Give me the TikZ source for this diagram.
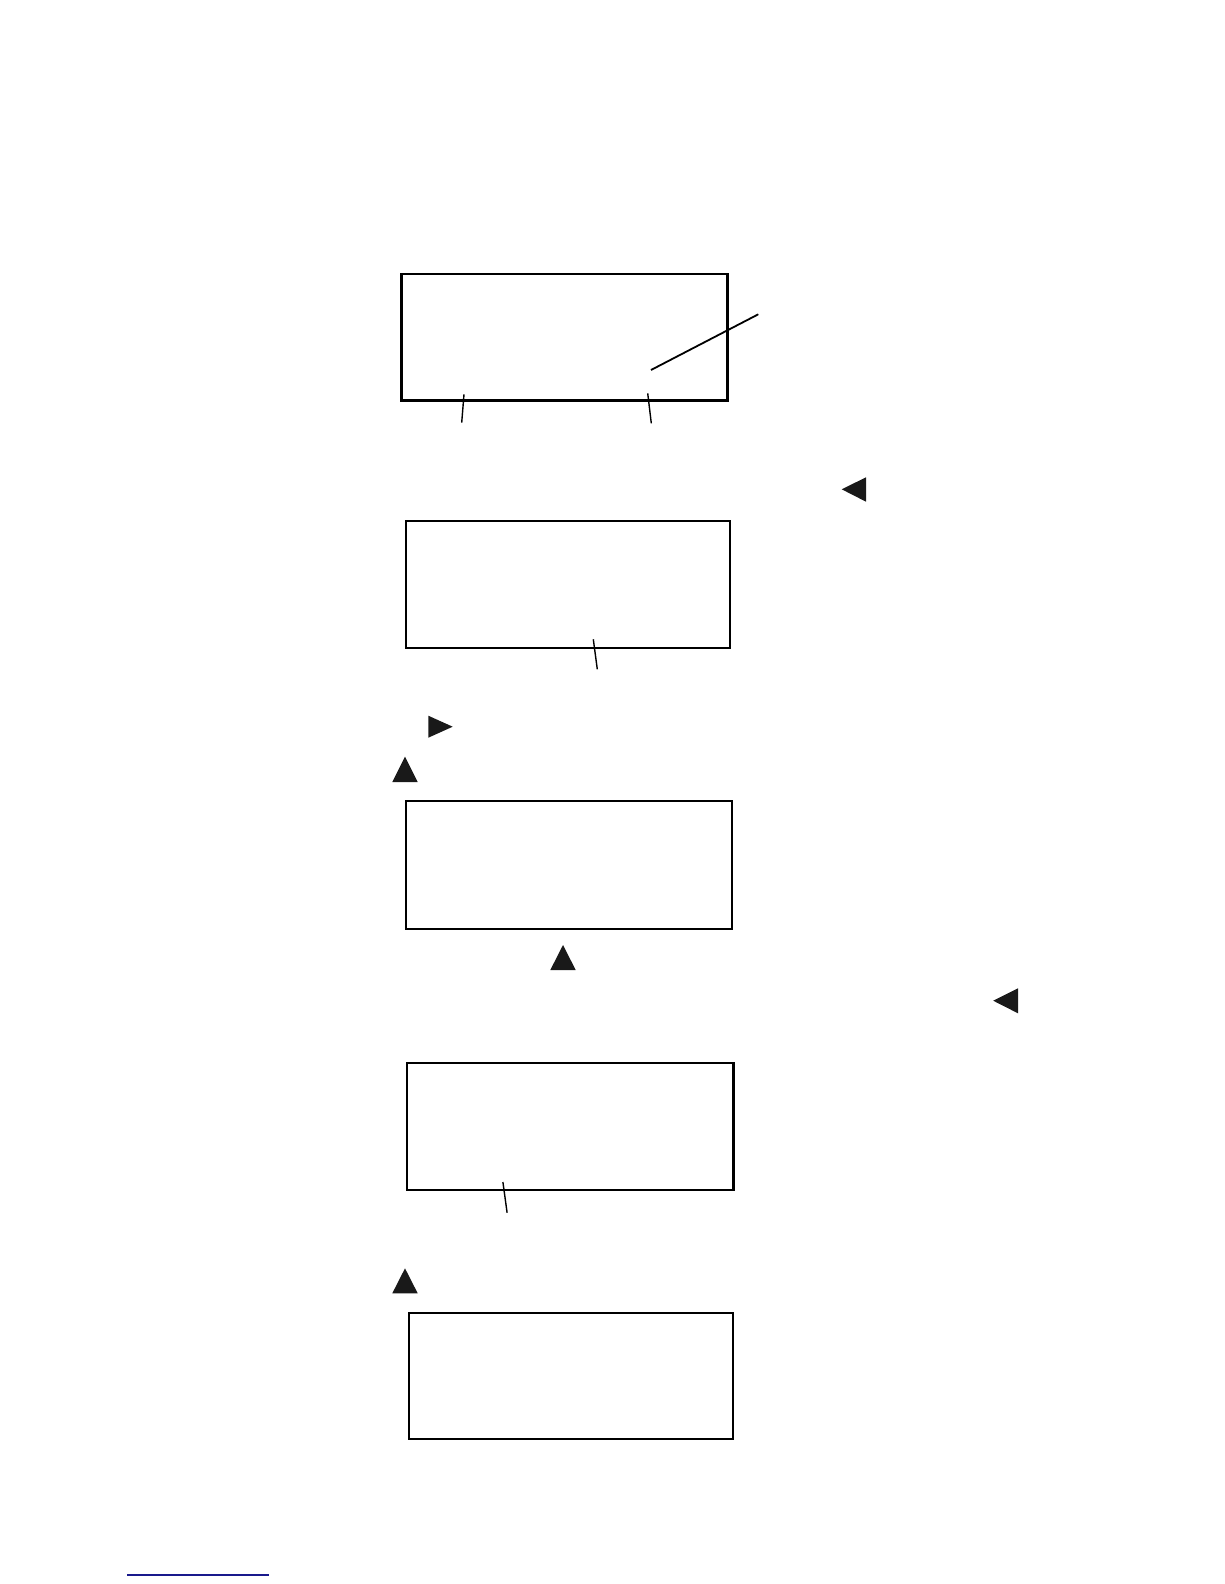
\documentclass[tikz,border=0pt]{standalone}
\usetikzlibrary{calc}
\definecolor{linkblue}{RGB}{25,25,140}
\tikzset{
  lcdbox/.style={draw=black, line width=2.2pt, fill=none, inner sep=0pt, minimum width=#1},
  leader/.style={draw=black, line width=1.4pt},
  marker/.style={fill=black!90, draw=none},
}
\begin{document}
\begin{tikzpicture}[x=1pt,y=-1pt]
\useasboundingbox (0,0) rectangle (1224,1584);
\fill[white] (0,0) rectangle (1224,1584);

% display boxes
\node[lcdbox=325.6pt, minimum height=126.3pt, line width=2.6pt] (b1) at (564.5,337.2) {};
\node[lcdbox=324.6pt, minimum height=127.3pt] (b2) at (568,584.7) {};
\node[lcdbox=326pt, minimum height=127.7pt] (b3) at (569.3,865.2) {};
\node[lcdbox=326.5pt, minimum height=126.3pt] (b4) at (570.2,1126.5) {};
\node[lcdbox=324.3pt, minimum height=126pt] (b5) at (571.2,1376) {};

% leader lines
\coordinate (d1a) at (651,370);
\coordinate (d1b) at (758.3,314.3);
\draw[leader, line width=1.8pt] (d1a) -- (d1b);
\coordinate (t1a) at (464,394.3);
\coordinate (t1b) at (461.7,422.7);
\draw[leader] (t1a) -- (t1b);
\coordinate (t2a) at (647.7,393.3);
\coordinate (t2b) at (651.3,423.3);
\draw[leader] (t2a) -- (t2b);
\coordinate (t3a) at (593.3,639.3);
\coordinate (t3b) at (597.3,669.3);
\draw[leader] (t3a) -- (t3b);
\coordinate (t4a) at (502.9,1182);
\coordinate (t4b) at (507.1,1212.7);
\draw[leader] (t4a) -- (t4b);

% triangle markers
\fill[marker] (841.7,489.3) -- (866,477.3) -- (866,501.7) -- cycle;
\fill[marker] (428.3,715.7) -- (428.3,737.7) -- (452.7,726.7) -- cycle;
\fill[marker] (405,756.7) -- (392.3,782) -- (417.7,782) -- cycle;
\fill[marker] (563,945) -- (550.3,970) -- (575.7,970) -- cycle;
\fill[marker] (993.2,1000.7) -- (1018,988.3) -- (1018,1013.3) -- cycle;
\fill[marker] (405,1268.3) -- (392.3,1293.3) -- (417.7,1293.3) -- cycle;

% footer rule
\coordinate (f1) at (127.3,1575);
\coordinate (f2) at (269,1575);
\draw[linkblue, line width=1.2pt] (f1) -- (f2);
\end{tikzpicture}
\end{document}
